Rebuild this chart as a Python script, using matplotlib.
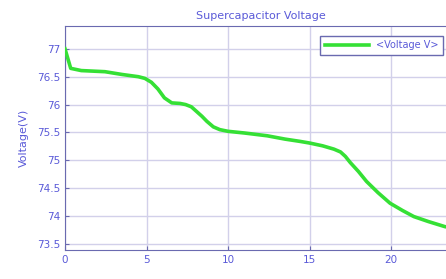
import matplotlib
matplotlib.use("Agg")
import matplotlib.pyplot as plt

# supercapacitor voltage trace
time_s = [0, 0.35, 1.0, 2.45, 3.5, 4.5, 4.9, 5.3, 5.7, 6.1, 6.55, 7.06, 7.4, 7.75, 7.98,
          8.4, 8.7, 9.1, 9.5, 10.0, 11.0, 12.4, 13.5, 14.4, 15.0, 15.8, 16.5, 16.9,
          17.2, 17.5, 18.0, 18.5, 19.2, 19.94, 20.7, 21.4, 22.3, 23.3, 24.0]
voltage = [77.0, 76.65, 76.61, 76.59, 76.54, 76.5, 76.47, 76.4, 76.28, 76.12, 76.03,
           76.02, 76.0, 75.96, 75.9, 75.79, 75.7, 75.6, 75.55, 75.52, 75.49, 75.44,
           75.38, 75.34, 75.31, 75.26, 75.2, 75.15, 75.07, 74.96, 74.8, 74.62, 74.42,
           74.23, 74.1, 73.99, 73.9, 73.81, 73.77]

txt = "#5a5ad8"
grid_c = "#d2d0ea"
spine_c = "#6a6ab0"

fig = plt.figure(figsize=(4.46, 2.79), dpi=100)
ax = fig.add_axes([65 / 446, 1 - 250 / 279, (24 * 16.3) / 446, 224 / 279])

ax.plot(time_s, voltage, color="#35e035", lw=2.6, label="<Voltage V>", zorder=3)

ax.set_xlim(0, 24)
ax.set_ylim(73.39, 77.41)
ax.set_xticks([0, 5, 10, 15, 20])
ax.set_yticks([73.5, 74, 74.5, 75, 75.5, 76, 76.5, 77])
ax.set_yticklabels(["73.5", "74", "74.5", "75", "75.5", "76", "76.5", "77"])
ax.tick_params(direction="in", length=3, colors=spine_c, labelcolor=txt, labelsize=7.5)
ax.grid(True, color=grid_c, lw=1.0)
for s in ax.spines.values():
    s.set_color(spine_c)

ax.set_title("Supercapacitor Voltage", color=txt, fontsize=8, pad=5)
ax.set_ylabel("Voltage(V)", color=txt, fontsize=8, labelpad=6)

leg = ax.legend(loc="upper right", bbox_to_anchor=(378 / 391, 0.955), fontsize=7,
                fancybox=False, framealpha=1, borderpad=0.45, handlelength=4.5,
                borderaxespad=0)
leg.get_frame().set_edgecolor(spine_c)
for t in leg.get_texts():
    t.set_color(txt)

fig.savefig("out.png", dpi=100)
